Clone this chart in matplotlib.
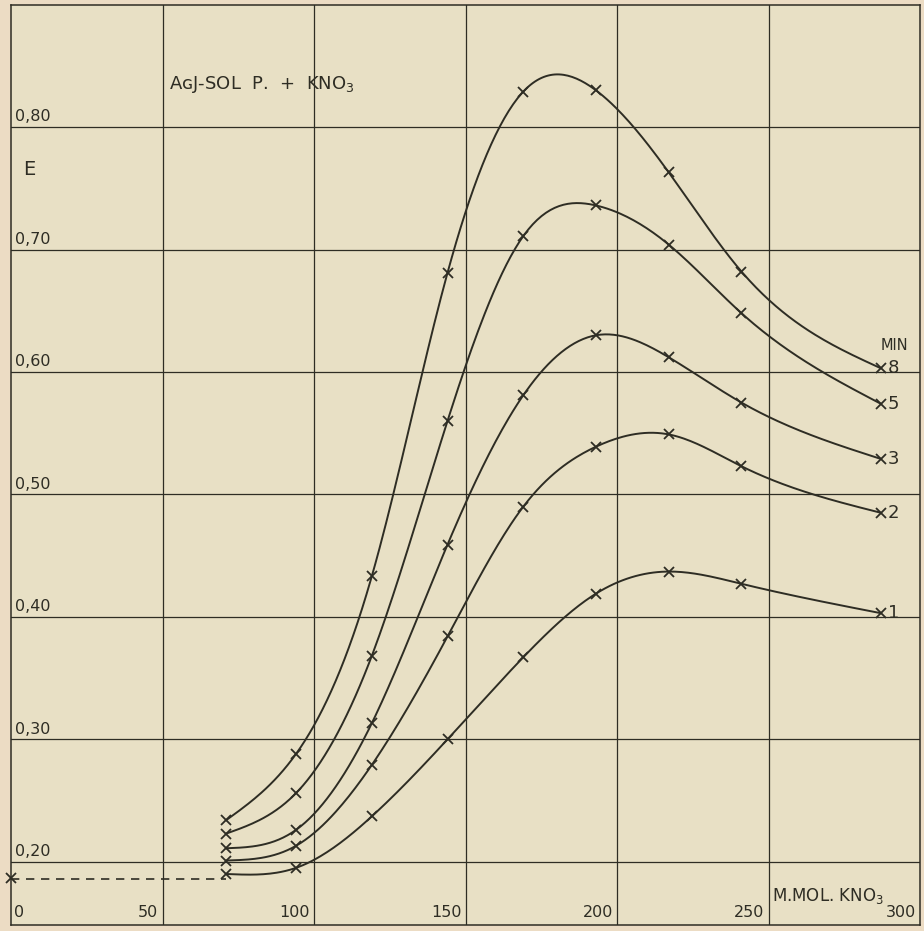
import numpy as np
import matplotlib
matplotlib.use("Agg")
import matplotlib.pyplot as plt

# ---- data ----
conc = [71, 94, 119, 144, 169, 193, 217, 241, 287]          # m.Mol KNO3
e_1min = [0.190, 0.195, 0.237, 0.300, 0.367, 0.419, 0.437, 0.427, 0.403]
e_2min = [0.201, 0.213, 0.279, 0.384, 0.490, 0.539, 0.549, 0.523, 0.485]
e_3min = [0.211, 0.226, 0.313, 0.459, 0.581, 0.630, 0.612, 0.575, 0.529]
e_5min = [0.223, 0.256, 0.368, 0.560, 0.711, 0.736, 0.704, 0.648, 0.574]
e_8min = [0.234, 0.288, 0.433, 0.681, 0.829, 0.830, 0.763, 0.682, 0.603]
curve_labels = ["1", "2", "3", "5", "8"]
sol_conc = [0, 71]
sol_e = [0.186, 0.186]
sol_point = (0, 0.187)

x_ticks = [0, 50, 100, 150, 200, 250, 300]
y_ticks = [0.20, 0.30, 0.40, 0.50, 0.60, 0.70, 0.80]
y_tick_labels = ["0,20", "0,30", "0,40", "0,50", "0,60", "0,70", "0,80"]


def natural_spline(x, y, n=300):
    x = np.asarray(x, float)
    y = np.asarray(y, float)
    m = len(x)
    h = np.diff(x)
    A = np.zeros((m, m))
    b = np.zeros(m)
    A[0, 0] = 1
    A[-1, -1] = 1
    for i in range(1, m - 1):
        A[i, i - 1] = h[i - 1]
        A[i, i] = 2 * (h[i - 1] + h[i])
        A[i, i + 1] = h[i]
        b[i] = 6 * ((y[i + 1] - y[i]) / h[i] - (y[i] - y[i - 1]) / h[i - 1])
    M = np.linalg.solve(A, b)
    xs = np.linspace(x[0], x[-1], n)
    idx = np.clip(np.searchsorted(x, xs) - 1, 0, m - 2)
    x0, x1 = x[idx], x[idx + 1]
    hh = x1 - x0
    t0 = x1 - xs
    t1 = xs - x0
    ys = (M[idx] * t0 ** 3 / (6 * hh) + M[idx + 1] * t1 ** 3 / (6 * hh)
          + (y[idx] / hh - M[idx] * hh / 6) * t0
          + (y[idx + 1] / hh - M[idx + 1] * hh / 6) * t1)
    return xs, ys


ink = "#2e2d24"
fig = plt.figure(figsize=(9.24, 9.31), dpi=100, facecolor="#ecdcc4")
ax = fig.add_axes([0.012, 0.006, 0.984, 0.989])
ax.set_facecolor("#e8e0c5")
ax.set_xlim(0, 300)
ax.set_ylim(0.148, 0.90)

# grid
for xv in x_ticks[1:-1]:
    ax.axvline(xv, color=ink, lw=0.9, zorder=1)
for yv in y_ticks:
    ax.axhline(yv, color=ink, lw=0.9, zorder=1)
for s in ax.spines.values():
    s.set_color(ink)
    s.set_linewidth(1.1)
ax.set_xticks([])
ax.set_yticks([])

series = [e_1min, e_2min, e_3min, e_5min, e_8min]
for vals, lab in zip(series, curve_labels):
    xs, ys = natural_spline(conc, vals)
    ax.plot(xs, ys, color=ink, lw=1.4, zorder=3)
    ax.plot(conc, vals, ls="none", marker="x", ms=7, mew=1.3, color=ink, zorder=4)
    ax.annotate(lab, (conc[-1], vals[-1]), xytext=(5, 0), textcoords="offset points",
                ha="left", va="center", fontsize=13, color=ink)

ax.plot(sol_conc, sol_e, color=ink, lw=1.2, ls=(0, (5, 4)), zorder=3)
ax.plot([sol_point[0]], [sol_point[1]], marker="x", ms=7, mew=1.3, color=ink,
        clip_on=False, zorder=4)

# tick labels inside the plot
for yv, lab in zip(y_ticks, y_tick_labels):
    ax.annotate(lab, (0, yv), xytext=(3, 2), textcoords="offset points",
                ha="left", va="bottom", fontsize=11.5, color=ink)
ax.annotate("0", (0, 0.148), xytext=(2, 4), textcoords="offset points",
            ha="left", va="bottom", fontsize=11.5, color=ink)
for xv in x_ticks[1:]:
    ax.annotate(str(xv), (xv, 0.148), xytext=(-3, 4), textcoords="offset points",
                ha="right", va="bottom", fontsize=11.5, color=ink)

ax.text(4, 0.765, "E", fontsize=14, color=ink, ha="left", va="center")
ax.text(52, 0.835, "A\u0262J-SOL  P.  +  KNO$_3$", fontsize=13, color=ink,
        ha="left", va="center")
ax.text(251, 0.172, "M.MOL. KNO$_3$", fontsize=12, color=ink, ha="left", va="center")
ax.text(296, 0.622, "MIN", fontsize=10.5, color=ink, ha="right", va="center")

fig.savefig("out.png", dpi=100, facecolor=fig.get_facecolor())
